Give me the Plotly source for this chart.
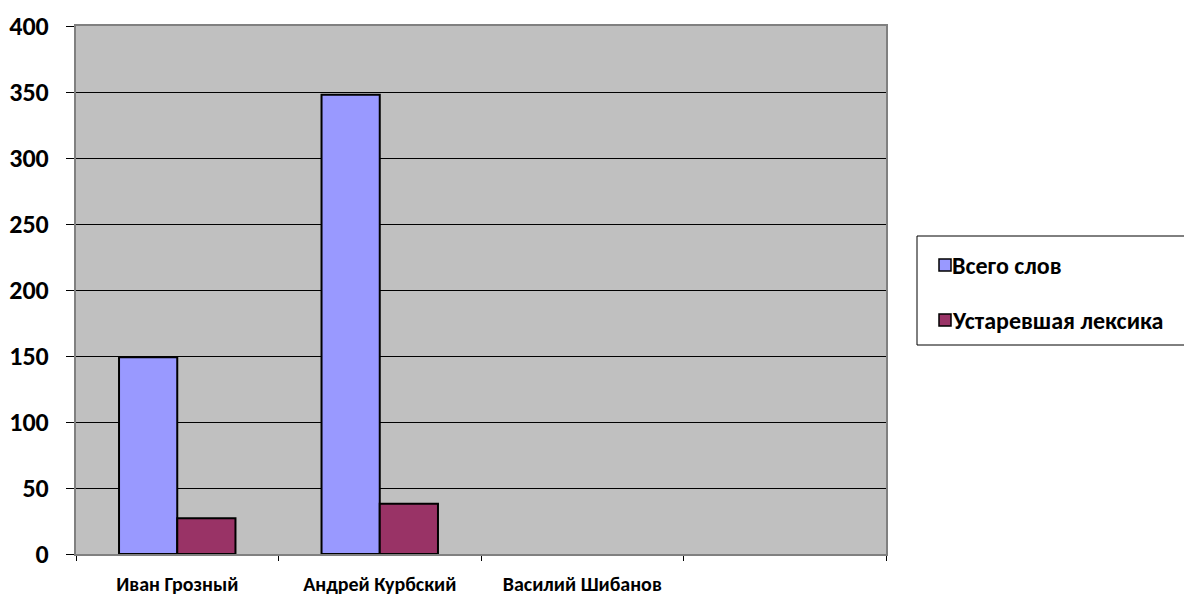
import plotly.graph_objects as go

# Data
authors = ["Иван Грозный", "Андрей Курбский", "Василий Шибанов", " "]
series_names = ["Всего слов", "Устаревшая лексика"]
total_words = [149, 348, None, None]
archaic_words = [27, 38, None, None]
y_ticks = [0, 50, 100, 150, 200, 250, 300, 350, 400]

colors = ["#9999FF", "#993366"]
FONT = "Carlito, 'Open Sans', sans-serif"

W, H = 1184, 599
L, R, T, B = 76, 886, 26, 554


def px_x(x):
    return (x - L) / (R - L)


def px_y(y):
    return (B - y) / (B - T)


fig = go.Figure()
for name, vals, col in zip(series_names, [total_words, archaic_words], colors):
    fig.add_trace(go.Bar(
        x=authors, y=vals, name=name,
        marker=dict(color=col, line=dict(color="black", width=2)),
        showlegend=False,
    ))

# Legend frame, swatches and labels
shapes = [dict(type="rect", xref="paper", yref="paper",
               x0=px_x(917), x1=px_x(1195), y0=px_y(345), y1=px_y(236),
               line=dict(color="black", width=1), fillcolor="white", layer="below")]
annotations = []
legend_rows = [265, 320]
for name, col, yc in zip(series_names, colors, legend_rows):
    shapes.append(dict(type="rect", xref="paper", yref="paper",
                       x0=px_x(939), x1=px_x(951), y0=px_y(yc + 6), y1=px_y(yc - 6),
                       line=dict(color="black", width=1.5), fillcolor=col))
    annotations.append(dict(text=f"<b>{name}</b>", xref="paper", yref="paper",
                            x=px_x(950), y=px_y(yc), xanchor="left", yanchor="middle",
                            showarrow=False, font=dict(family=FONT, size=24, color="black")))

fig.update_layout(
    width=W, height=H,
    margin=dict(l=L, r=W - R, t=T, b=H - B),
    paper_bgcolor="white",
    plot_bgcolor="#C0C0C0",
    barmode="group",
    bargap=0.425,
    bargroupgap=0,
    shapes=shapes,
    annotations=annotations,
    xaxis=dict(
        type="category", categoryorder="array", categoryarray=authors,
        range=[-0.5, 3.5], automargin=False,
        tickson="boundaries", ticks="outside", ticklen=5, tickcolor="black",
        ticklabelstandoff=11,
        showline=True, linecolor="#808080", linewidth=2, mirror=True,
        showgrid=False,
        tickfont=dict(family=FONT, size=20, color="black", weight="bold"),
    ),
    yaxis=dict(
        range=[0, 400], tickvals=y_ticks, automargin=False,
        ticks="outside", ticklen=8, tickcolor="black",
        ticklabelstandoff=12,
        showline=True, linecolor="#808080", linewidth=2, mirror=True,
        showgrid=True, gridcolor="black", gridwidth=1,
        zeroline=True, zerolinecolor="black", zerolinewidth=1,
        tickfont=dict(family=FONT, size=26, color="black", weight="bold"),
    ),
)

fig.write_html("out.html")
